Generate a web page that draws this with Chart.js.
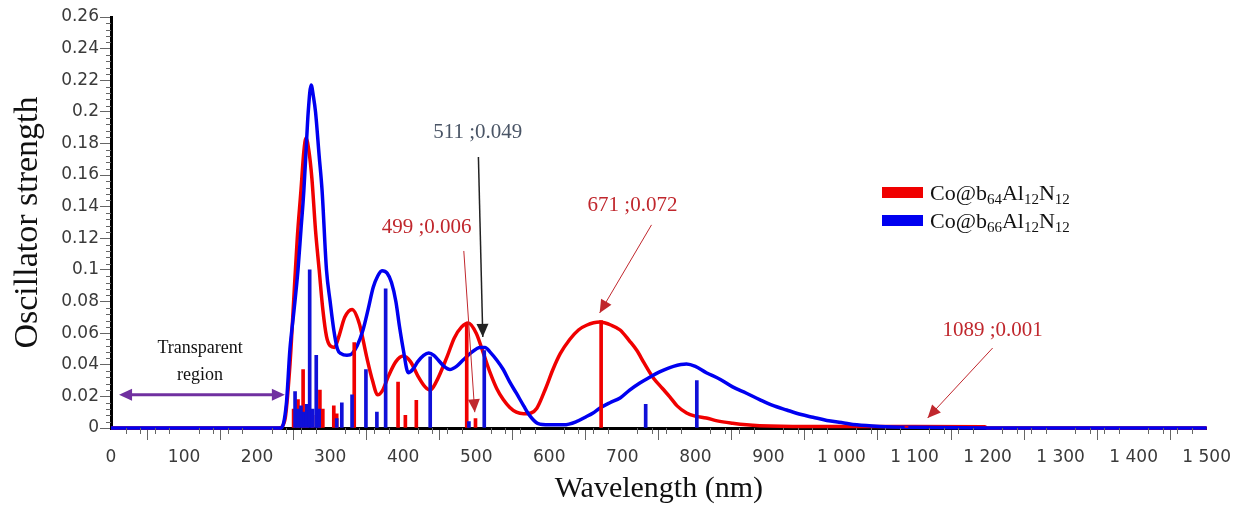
<!DOCTYPE html>
<html>
<head>
<meta charset="utf-8">
<script src="https://cdn.jsdelivr.net/npm/chart.js@4.4.1/dist/chart.umd.min.js"></script>
<style>
  html, body { margin: 0; padding: 0; background: #fff; }
  #wrap { width: 1238px; height: 508px; }
</style>
</head>
<body>
<div id="wrap"><canvas id="spectrum" width="1238" height="508"></canvas></div>
<script>
// broadened spectra (nm, oscillator strength)
const redCurveNm = [0, 230, 238, 245, 250, 255, 260, 264, 267, 271, 275, 280, 285, 290, 295, 300, 306, 312, 320, 330, 340, 350, 358, 365, 372, 380, 390, 400, 410, 420, 430, 437, 445, 460, 470, 480, 489, 500, 510, 519, 528, 537, 546, 555, 565, 575, 583, 595, 605, 615, 628, 640, 651, 669, 685, 697, 710, 720, 730, 742, 755, 765, 775, 788, 800, 815, 830, 851, 870, 888, 950, 1000, 1100, 1196, 1200, 1500];
const redCurveF = [0, 0, 0.005, 0.04, 0.08, 0.12, 0.15, 0.175, 0.1835, 0.175, 0.158, 0.125, 0.1, 0.075, 0.058, 0.052, 0.051, 0.058, 0.07, 0.075, 0.066, 0.045, 0.03, 0.021, 0.024, 0.033, 0.042, 0.0455, 0.042, 0.033, 0.026, 0.024, 0.029, 0.045, 0.057, 0.064, 0.0665, 0.06, 0.047, 0.035, 0.025, 0.018, 0.013, 0.01, 0.009, 0.0095, 0.0125, 0.025, 0.037, 0.047, 0.056, 0.062, 0.065, 0.067, 0.065, 0.062, 0.055, 0.049, 0.041, 0.032, 0.025, 0.0197, 0.014, 0.0095, 0.0075, 0.0063, 0.0045, 0.003, 0.002, 0.0015, 0.001, 0.001, 0.001, 0.0008, 0, 0];

const blueCurveNm = [0, 233, 240, 245, 250, 256, 260, 264, 267, 270, 274, 277, 280, 285, 289, 295, 300, 305, 310, 315, 323, 330, 337, 345, 352, 359, 365, 371, 378, 384, 390, 395, 400, 407, 413, 420, 428, 435, 442, 448, 456, 464, 473, 482, 494, 505, 512, 519, 528, 537, 546, 555, 565, 573, 584, 600, 620, 637, 650, 660, 669, 683, 697, 710, 724, 737, 751, 770, 788, 800, 815, 833, 851, 870, 888, 905, 925, 945, 961, 980, 1000, 1021, 1052, 1100, 1200, 1500];
const blueCurveF = [0, 0, 0.015, 0.05, 0.072, 0.1, 0.125, 0.15, 0.175, 0.2, 0.217, 0.21, 0.2, 0.172, 0.15, 0.1, 0.08, 0.062, 0.05, 0.047, 0.046, 0.047, 0.052, 0.062, 0.075, 0.089, 0.096, 0.0995, 0.098, 0.092, 0.08, 0.064, 0.05, 0.035, 0.037, 0.042, 0.046, 0.0475, 0.046, 0.043, 0.039, 0.037, 0.039, 0.043, 0.048, 0.051, 0.051, 0.048, 0.043, 0.037, 0.029, 0.022, 0.014, 0.008, 0.003, 0.002, 0.002, 0.004, 0.007, 0.0095, 0.0125, 0.016, 0.019, 0.024, 0.0285, 0.032, 0.0355, 0.039, 0.0405, 0.039, 0.035, 0.031, 0.026, 0.022, 0.018, 0.0145, 0.0114, 0.0085, 0.0068, 0.0048, 0.0035, 0.002, 0.001, 0.0004, 0, 0];

// individual transitions (sticks)
const redStickNm = [250, 256, 263, 268, 276, 286, 290, 305, 309, 333, 393, 403, 418, 487, 499, 671, 1089];
const redStickF = [0.012, 0.018, 0.037, 0.011, 0.008, 0.024, 0.012, 0.014, 0.009, 0.054, 0.029, 0.008, 0.0175, 0.066, 0.006, 0.068, 0.001];
const blueStickNm = [252, 256, 260, 264, 268, 272, 276, 281, 285, 309, 316, 330, 349, 364, 376, 437, 490, 511, 732, 802];
const blueStickF = [0.023, 0.012, 0.014, 0.01, 0.015, 0.1, 0.012, 0.046, 0.012, 0.006, 0.016, 0.021, 0.037, 0.01, 0.088, 0.045, 0.004, 0.049, 0.015, 0.03];

const legendRed = ['Co@b', '64', 'Al', '12', 'N', '12'];
const legendBlue = ['Co@b', '66', 'Al', '12', 'N', '12'];

const RED = '#f00000';
const BLUE = '#0000f0';
const DARKRED = '#c0272d';

const callouts = [
  { text: '511 ;0.049', color: '#4a5566', at: [502, 0.187], from: [503, 0.1715], to: [509, 0.0576], width: 1.5 },
  { text: '499 ;0.006', color: DARKRED, at: [432, 0.1266], from: [483, 0.112], to: [498, 0.010], width: 1 },
  { text: '671 ;0.072', color: DARKRED, at: [714, 0.141], from: [740, 0.1285], to: [669, 0.0728], width: 1 },
  { text: '1089 ;0.001', color: DARKRED, at: [1207, 0.062], from: [1207, 0.0506], to: [1118, 0.0063], width: 1 }
];

const pts = (xs, ys) => xs.map((x, i) => ({ x: x, y: ys[i] }));

function drawArrowHead(ctx, x1, y1, x2, y2, len, half) {
  const a = Math.atan2(y2 - y1, x2 - x1);
  ctx.beginPath();
  ctx.moveTo(x2, y2);
  ctx.lineTo(x2 - len * Math.cos(a) + half * Math.sin(a), y2 - len * Math.sin(a) - half * Math.cos(a));
  ctx.lineTo(x2 - len * Math.cos(a) - half * Math.sin(a), y2 - len * Math.sin(a) + half * Math.cos(a));
  ctx.closePath();
  ctx.fill();
}

const minorTicks = {
  id: 'minorTicks',
  afterDraw(chart) {
    const { ctx, scales: { x, y } } = chart;
    ctx.save();
    ctx.strokeStyle = '#666';
    ctx.lineWidth = 1;
    for (let v = 20; v < 1500; v += 20) {
      if (v % 100 === 0) continue;
      const px = Math.round(x.getPixelForValue(v)) + 0.5;
      ctx.beginPath();
      ctx.moveTo(px, y.bottom);
      ctx.lineTo(px, y.bottom + 6);
      ctx.stroke();
    }
    for (let i = 1; i < 65; i++) {
      if (i % 5 === 0) continue;
      const py = Math.round(y.getPixelForValue(i * 0.004)) + 0.5;
      ctx.beginPath();
      ctx.moveTo(x.left - 5, py);
      ctx.lineTo(x.left, py);
      ctx.stroke();
    }
    ctx.restore();
  }
};

const notes = {
  id: 'notes',
  afterDraw(chart) {
    const { ctx, scales: { x, y } } = chart;
    ctx.save();
    ctx.textAlign = 'center';
    ctx.textBaseline = 'middle';
    callouts.forEach(c => {
      ctx.font = '21px "Liberation Serif", serif';
      ctx.fillStyle = c.color;
      ctx.fillText(c.text, x.getPixelForValue(c.at[0]), y.getPixelForValue(c.at[1]));
      const x1 = x.getPixelForValue(c.from[0]), y1 = y.getPixelForValue(c.from[1]);
      const x2 = x.getPixelForValue(c.to[0]), y2 = y.getPixelForValue(c.to[1]);
      ctx.strokeStyle = c.color === DARKRED ? '#c0272d' : '#222';
      ctx.fillStyle = ctx.strokeStyle;
      ctx.lineWidth = c.width;
      ctx.beginPath();
      ctx.moveTo(x1, y1);
      ctx.lineTo(x2, y2);
      ctx.stroke();
      drawArrowHead(ctx, x1, y1, x2, y2, 13, 6);
    });

    // transparent region
    ctx.fillStyle = '#111';
    ctx.font = '18px "Liberation Serif", serif';
    ctx.fillText('Transparent', x.getPixelForValue(122), y.getPixelForValue(0.0506));
    ctx.fillText('region', x.getPixelForValue(122), y.getPixelForValue(0.0335));
    const ay = y.getPixelForValue(0.021);
    const ax1 = x.getPixelForValue(11), ax2 = x.getPixelForValue(238);
    ctx.strokeStyle = '#7030a0';
    ctx.fillStyle = '#7030a0';
    ctx.lineWidth = 3;
    ctx.beginPath();
    ctx.moveTo(ax1 + 6, ay);
    ctx.lineTo(ax2 - 6, ay);
    ctx.stroke();
    drawArrowHead(ctx, ax2, ay, ax1, ay, 13, 6);
    drawArrowHead(ctx, ax1, ay, ax2, ay, 13, 6);

    // legend
    const rows = [[legendRed, RED], [legendBlue, BLUE]];
    rows.forEach((row, r) => {
      const top = 187 + r * 28;
      ctx.fillStyle = row[1];
      ctx.fillRect(882, top, 41, 11);
      let tx = 930;
      ctx.textAlign = 'left';
      ctx.textBaseline = 'alphabetic';
      ctx.fillStyle = '#111';
      row[0].forEach((part, k) => {
        const sub = k % 2 === 1;
        ctx.font = sub ? '15px "Liberation Serif", serif' : '22px "Liberation Serif", serif';
        ctx.fillText(part, tx, top + 13 + (sub ? 4 : 0));
        tx += ctx.measureText(part).width;
      });
    });
    ctx.restore();
  }
};

const fmtX = v => v >= 1000 ? Math.floor(v / 1000) + ' ' + String(v % 1000).padStart(3, '0') : String(v);

new Chart(document.getElementById('spectrum'), {
  type: 'line',
  data: {
    datasets: [
      { type: 'bar', data: pts(blueStickNm, blueStickF), backgroundColor: '#1010d8', barThickness: 3, grouped: false, order: 0 },
      { type: 'bar', data: pts(redStickNm, redStickF), backgroundColor: RED, barThickness: 3, grouped: false, order: 1 },
      { data: pts(blueCurveNm, blueCurveF), borderColor: BLUE, borderWidth: 3.5, pointRadius: 0, tension: 0.4, cubicInterpolationMode: 'monotone', clip: 4, order: 2 },
      { data: pts(redCurveNm, redCurveF), borderColor: RED, borderWidth: 3.5, pointRadius: 0, tension: 0.4, cubicInterpolationMode: 'monotone', clip: 4, order: 3 }
    ]
  },
  options: {
    responsive: false,
    animation: false,
    layout: { padding: { left: 0, right: 31, top: 17, bottom: 0 } },
    plugins: { legend: { display: false }, tooltip: { enabled: false } },
    scales: {
      x: {
        type: 'linear',
        min: 0,
        max: 1500,
        offset: false,
        afterFit: s => { s.height = 80; },
        border: { color: '#000', width: 3 },
        grid: { drawOnChartArea: false, tickLength: 12, tickColor: '#666' },
        ticks: { stepSize: 100, padding: 7, maxRotation: 0, autoSkip: false, color: '#3a3a3a', font: { family: 'DejaVu Sans', size: 17 }, callback: v => fmtX(v) },
        title: { display: true, text: 'Wavelength (nm)', color: '#111', font: { family: 'Liberation Serif', size: 30 }, padding: { top: 0, bottom: 1 } }
      },
      y: {
        min: 0,
        max: 0.26,
        afterFit: s => { s.width = 111; },
        border: { color: '#000', width: 3 },
        grid: { drawOnChartArea: false, tickLength: 11, tickColor: '#666' },
        ticks: { stepSize: 0.02, padding: 1, color: '#3a3a3a', font: { family: 'DejaVu Sans', size: 17 }, callback: v => String(parseFloat(v.toFixed(3))) },
        title: { display: true, text: 'Oscillator strength', color: '#111', font: { family: 'Liberation Serif', size: 34 }, padding: { top: 8, bottom: 0 } }
      }
    }
  },
  plugins: [minorTicks, notes]
});
</script>
</body>
</html>
